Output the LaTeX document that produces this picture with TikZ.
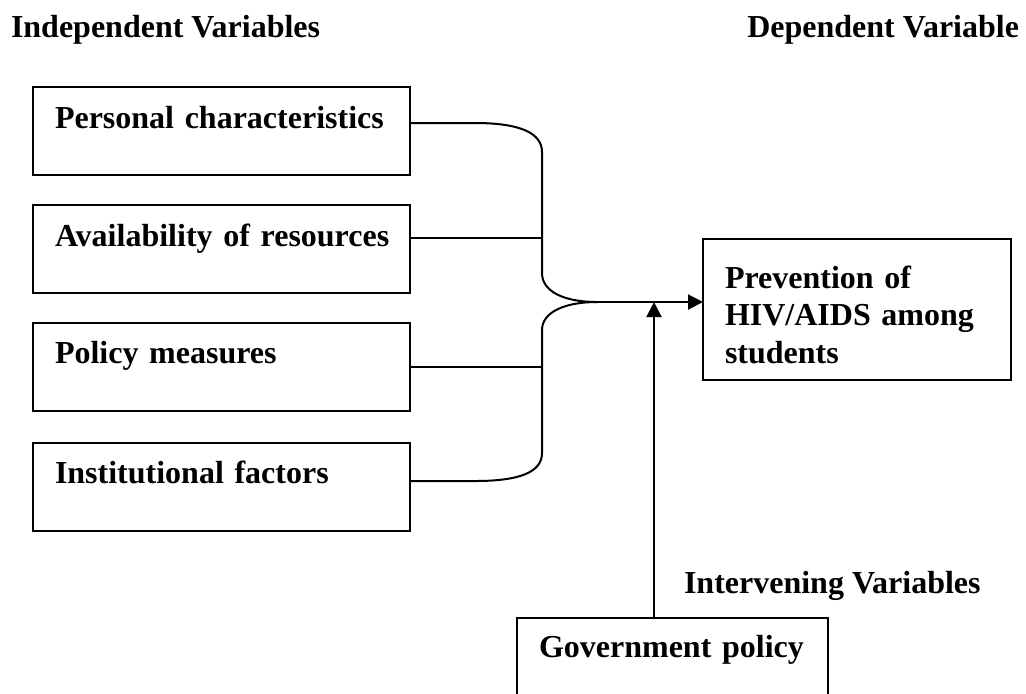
\documentclass[tikz,border=0pt]{standalone}
\usepackage{fontspec}
\setmainfont{Liberation Serif}
\usetikzlibrary{positioning, arrows.meta, calc}

\tikzset{
  varbox/.style={draw, line width=1pt, anchor=north west, outer sep=0pt, inner xsep=11pt, inner ysep=0pt,
    align=left, text height=19.5pt},
  headtext/.style={inner sep=0pt}
}

\begin{document}
\begin{tikzpicture}[x=0.5pt, y=-0.5pt, line width=1pt,
  font=\fontsize{16pt}{18.75pt}\selectfont\bfseries]
\useasboundingbox (0, 0) rectangle (1026, 693);

\node[headtext, anchor=base west] (indep) at (10, 37) {Independent Variables};
\node[headtext, anchor=base east] (dep) at (1020, 37) {Dependent Variable};
\node[headtext, anchor=base west] (interv) at (683, 593) {Intervening Variables};

\node[varbox, text width=166.5pt, text height=20.5pt, text depth=23.5pt] (pc) at (33, 87) {\mbox{Personal characteristics}};
\node[varbox, text width=166.5pt, text height=20.5pt, text depth=23.5pt] (ar) at (33, 205) {\mbox{Availability of resources}};
\node[varbox, text width=166.5pt, text height=20pt, text depth=24pt] (pm) at (33, 323) {Policy measures};
\node[varbox, text width=166.5pt, text height=20pt, text depth=24pt] (inf) at (33, 443) {Institutional factors};

\node[varbox, text width=132pt, text height=24.5pt, text depth=46pt] (prev) at (703, 239) {Prevention of\\HIV/AIDS among\\students};
\node[varbox, text width=133.5pt, text depth=26.5pt] (gov) at (517, 618) {Government policy};

\coordinate (join) at (597, 302);

\draw ([yshift=4pt]pc.east) -- (475, 123) .. controls (520, 123) and (542, 133) .. (542, 152)
  -- (542, 273) .. controls (542, 292) and (565, 302) .. (join);
\draw ([yshift=5.5pt]ar.east) -- (542, 238);
\draw (pm.east) -- (542, 367);
\draw (join) .. controls (565, 302) and (542, 312) .. (542, 330)
  -- (542, 453) .. controls (542, 472) and (520, 481) .. (475, 481) -- ([yshift=3pt]inf.east);

\draw[-{Triangle[length=7.5pt, width=7.5pt]}] (join) -- (join -| prev.west);
\draw[-{Triangle[length=7.5pt, width=7.5pt]}] ([xshift=-9.25pt]gov.north) -- ([xshift=-9.25pt]gov.north |- join);

\end{tikzpicture}
\end{document}
